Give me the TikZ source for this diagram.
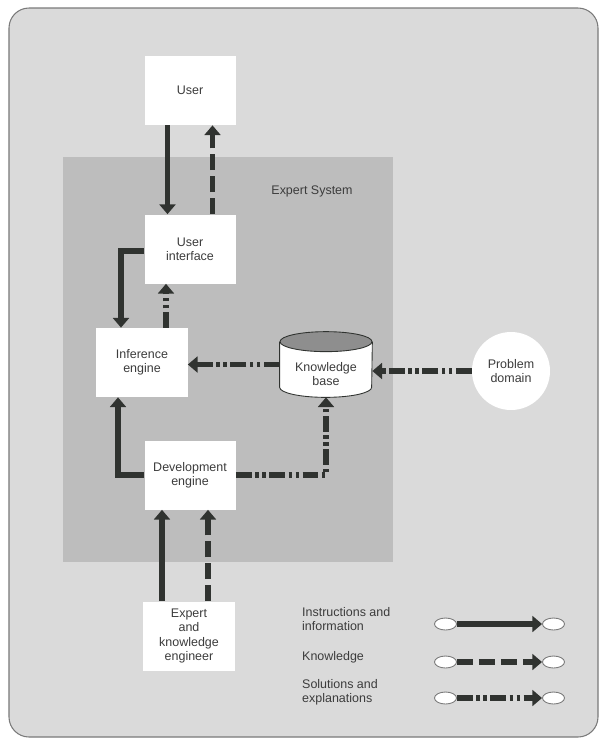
\documentclass[tikz,border=0pt]{standalone}
\usepackage{fontspec}
\setmainfont{Liberation Sans}
\usetikzlibrary{arrows.meta,shapes.geometric}
\definecolor{esframe}{HTML}{DADADA}
\definecolor{esshade}{HTML}{BDBDBD}
\definecolor{esdark}{HTML}{303330}
\definecolor{estext}{HTML}{3C3C3C}
\definecolor{estop}{HTML}{8E8E8E}
\definecolor{esedge}{HTML}{7A7A7A}

\tikzset{
  block/.style={fill=white, minimum width=1.82cm, minimum height=1.38cm, align=center, inner sep=1pt},
  flow/.style={draw=esdark, line width=2.9pt, -{Triangle[length=5.5pt,width=9pt]}},
  instr/.style={flow},
  knowl/.style={flow, dash pattern=on 9pt off 3.5pt},
  solut/.style={flow, dash pattern=on 9pt off 2pt on 2pt off 2pt on 2pt off 2pt},
  endcap/.style={ellipse, draw=esedge, fill=white, line width=0.5pt, minimum width=0.44cm, minimum height=0.24cm, inner sep=0pt},
}

\begin{document}
\begin{tikzpicture}[font=\fontsize{7.1}{8.2}\selectfont, text=estext]
  \useasboundingbox (0,0) rectangle (12,-14.88);
  % page panel and the shaded Expert System area
  \draw[esedge, fill=esframe, rounded corners=0.4cm, line width=0.6pt]
    (0.18,-0.16) rectangle (11.96,-14.74);
  \fill[esshade] (1.26,-3.14) rectangle (7.86,-11.24);
  \node (es) at (6.24,-3.82) {Expert System};

  % components
  \node[block] (user) at (3.8,-1.81) {User};
  \node[block] (ui) at (3.8,-4.98) {User\\interface};
  \node[block] (inf) at (2.84,-7.25) {Inference\\engine};
  \node[block] (dev) at (3.8,-9.5) {Development\\engine};
  \node[block] (expert) at (3.78,-12.72) {Expert\\and\\knowledge\\engineer};
  \node[circle, fill=white, minimum size=1.56cm, align=center, inner sep=0pt] (prob) at (10.22,-7.42) {Problem\\domain};

  % knowledge base drawn as a cylinder
  \node[minimum width=1.84cm, minimum height=1.30cm, inner sep=0pt] (kb) at (6.52,-7.29) {};
  \draw[esdark, line width=0.5pt, fill=white]
    ([yshift=-0.2cm]kb.north west) -- ([yshift=0.2cm]kb.south west)
    arc[start angle=180, end angle=360, x radius=0.92cm, y radius=0.2cm]
    -- ([yshift=-0.2cm]kb.north east);
  \draw[esdark, line width=0.5pt, fill=estop] ([yshift=-0.2cm]kb.north) ellipse[x radius=0.92cm, y radius=0.2cm];
  \node[align=center] (kbtext) at ([yshift=-0.19cm]kb.center) {Knowledge\\base};

  % flows between components
  \draw[instr] ([xshift=-0.45cm]user.south) -- ([xshift=-0.45cm]user.south |- ui.north);
  \draw[knowl] ([xshift=0.45cm]ui.north) -- ([xshift=0.45cm]ui.north |- user.south);
  \draw[instr] ([yshift=-0.04cm]ui.west) -| ([xshift=-0.42cm]inf.north);
  \draw[solut] ([xshift=0.48cm]inf.north) -- ([xshift=0.48cm]inf.north |- ui.south);
  \draw[solut] (kb.west) -- (kb.west -| inf.east);
  \draw[solut] (prob.west) -- (prob.west -| kb.east);
  \draw[instr] (dev.west) -| ([xshift=-0.48cm]inf.south);
  \draw[solut] (dev.east) -| (kb.south);
  \draw[instr] ([xshift=-0.54cm]expert.north) -- ([xshift=-0.54cm]expert.north |- dev.south);
  \draw[knowl] ([xshift=0.38cm]expert.north) -- ([xshift=0.38cm]expert.north |- dev.south);

  % legend
  \node[anchor=west, align=left] (lginstr) at (5.92,-12.38) {Instructions and\\information};
  \node[anchor=west] (lgknow) at (5.92,-13.14) {Knowledge};
  \node[anchor=west, align=left] (lgsol) at (5.92,-13.84) {Solutions and\\explanations};
  \node[endcap] (ia) at (8.91,-12.48) {}; \node[endcap] (ib) at (11.07,-12.48) {};
  \node[endcap] (ka) at (8.91,-13.24) {}; \node[endcap] (kb2) at (11.07,-13.24) {};
  \node[endcap] (sa) at (8.91,-13.96) {}; \node[endcap] (sb) at (11.07,-13.96) {};
  \draw[instr] (ia) -- (ib);
  \draw[knowl] (ka) -- (kb2);
  \draw[solut] (sa) -- (sb);
\end{tikzpicture}
\end{document}
